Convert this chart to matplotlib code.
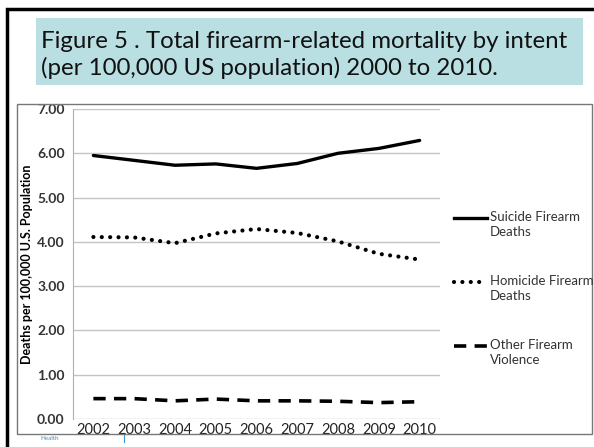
import matplotlib
matplotlib.use("Agg")
import matplotlib.pyplot as plt
from matplotlib.patches import Rectangle
from matplotlib.lines import Line2D

plt.rcParams['font.family'] = ['Lato', 'DejaVu Sans']

# --- данні ---
years = ["2002", "2003", "2004", "2005", "2006", "2007", "2008", "2009", "2010"]
suicide = [5.95, 5.84, 5.73, 5.76, 5.66, 5.77, 6.00, 6.11, 6.29]
homicide = [4.11, 4.10, 3.97, 4.19, 4.29, 4.20, 4.01, 3.73, 3.60]
other = [0.46, 0.46, 0.41, 0.45, 0.41, 0.41, 0.40, 0.37, 0.39]
yticks = [0, 1, 2, 3, 4, 5, 6, 7]

title_text = "Figure 5 . Total firearm-related mortality by intent\n(per 100,000 US population) 2000 to 2010."
labels = ["Suicide Firearm\nDeaths", "Homicide Firearm\nDeaths", "Other Firearm\nViolence"]

W, H = 594, 447
fig = plt.figure(figsize=(W / 100, H / 100), dpi=100)


def fx(px):
    return px / W


def fy(py):
    return 1 - py / H


# рамка слайду
fig.add_artist(Rectangle((fx(7), fy(470)), fx(620), fy(9) - fy(470), transform=fig.transFigure,
                         fill=False, edgecolor="black", linewidth=2.5))
# блок заголовку
fig.add_artist(Rectangle((fx(36), fy(85)), fx(583 - 36), fy(18) - fy(85), transform=fig.transFigure,
                         facecolor="#b9dfe3", edgecolor="none"))
fig.text(fx(41), fy(55), title_text, fontsize=17.3, va="center", ha="left", linespacing=1.3,
         color="#111111")
# рамка діаграми
fig.add_artist(Rectangle((fx(17), fy(434)), fx(592 - 17), fy(104) - fy(434), transform=fig.transFigure,
                         fill=False, edgecolor="#777777", linewidth=1))

dotted = (0, (0.01, 2.0))
dashed = (0, (3.4, 2.3))

ax = fig.add_axes([fx(73), fy(419), fx(440 - 73), fy(109) - fy(419)])
x = list(range(len(years)))
ax.plot(x, suicide, color="black", linewidth=2.4, solid_capstyle="round")
ax.plot(x, homicide, color="black", linewidth=3, linestyle=dotted, dash_capstyle="round")
ax.plot(x, other, color="black", linewidth=2.6, linestyle=dashed)

ax.set_xlim(-0.5, len(years) - 0.5)
ax.set_ylim(0, 7)
ax.set_yticks(yticks)
ax.set_yticklabels([f"{v:.2f}" for v in yticks], fontsize=10, fontweight="bold", color="#333333")
ax.set_xticks(x)
ax.set_xticklabels(years, fontsize=10.5, color="#222222")
ax.tick_params(length=0, pad=6)
ax.tick_params(axis="x", pad=3)
ax.grid(axis="y", color="#c4c4c4", linewidth=1)
ax.set_axisbelow(True)
for s in ["top", "right", "bottom"]:
    ax.spines[s].set_visible(False)
ax.spines["left"].set_color("#b0b0b0")
ax.set_ylabel("Deaths per 100,000 U.S. Population", fontsize=9, fontweight="bold", labelpad=3)

# легенда вручну
styles = [dict(linewidth=2.4), dict(linewidth=3, linestyle=dotted, dash_capstyle="round"),
          dict(linewidth=2.6, linestyle=dashed)]
legend_y = [218, 282, 346]
for lab, st, ly in zip(labels, styles, legend_y):
    fig.add_artist(Line2D([fx(454), fx(487)], [fy(ly), fy(ly)], color="black",
                          transform=fig.transFigure, **st))
    fig.text(fx(490), fy(ly - 7), lab, fontsize=9.5, va="top", ha="left", color="#333333",
             linespacing=1.25)

# дрібний підпис внизу
fig.text(fx(40), fy(438), "Health", fontsize=4.5, color="#3a8fd0", va="center")
fig.add_artist(Line2D([fx(124), fx(124)], [fy(435), fy(442)], color="#3a8fd0", linewidth=0.8,
                      transform=fig.transFigure))

fig.savefig("out.png", dpi=100)
